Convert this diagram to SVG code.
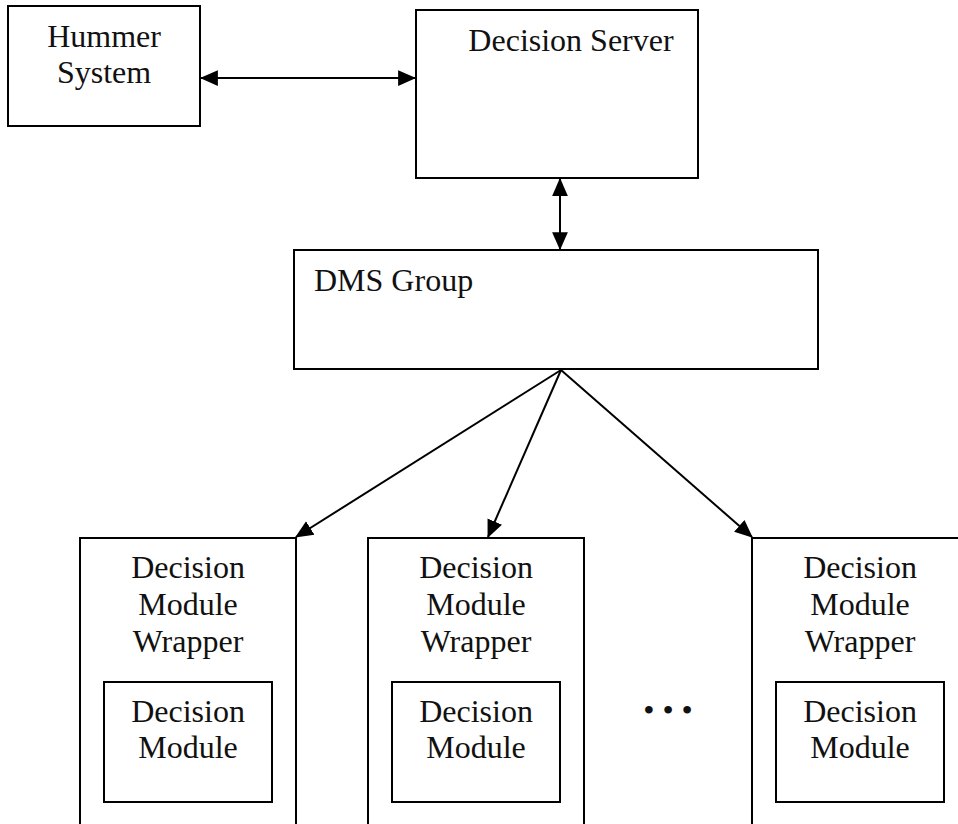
<svg xmlns="http://www.w3.org/2000/svg" width="958" height="824" viewBox="0 0 958 824">
  <style>
    .box { fill: #ffffff; stroke: #000000; stroke-width: 2; }
    .lbl { font-size: 32px; fill: #111111; }
    .mid { text-anchor: middle; }
    .conn { stroke: #000000; stroke-width: 2; fill: none; }
  </style>
  <defs>
    <marker id="arrow" markerUnits="userSpaceOnUse" markerWidth="18" markerHeight="18" viewBox="0 0 16 14" refX="15" refY="7" orient="auto-start-reverse">
      <path d="M0,0 L16,7 L0,14 z" fill="#000000"/>
    </marker>
  </defs>

  <rect width="958" height="824" fill="#ffffff"/>

  <g font-family="'Liberation Serif', 'DejaVu Serif', 'Times New Roman', serif">
  <g id="hummer-system">
    <rect class="box" x="8" y="6" width="192" height="120"/>
    <text class="lbl mid" x="104" y="47">Hummer</text>
    <text class="lbl mid" x="104" y="83">System</text>
  </g>

  <g id="decision-server">
    <rect class="box" x="416" y="10" width="282" height="168"/>
    <text class="lbl mid" x="571" y="51">Decision Server</text>
  </g>

  <g id="dms-group">
    <rect class="box" x="294" y="250" width="524" height="119"/>
    <text class="lbl" x="314" y="291">DMS Group</text>
  </g>

  <g id="wrapper-1">
    <rect class="box" x="80" y="538" width="216" height="300"/>
    <text class="lbl mid" x="188" y="578">Decision</text>
    <text class="lbl mid" x="188" y="615">Module</text>
    <text class="lbl mid" x="188" y="652">Wrapper</text>
    <g id="module-1">
      <rect class="box" x="104" y="682" width="168" height="120"/>
      <text class="lbl mid" x="188" y="722">Decision</text>
      <text class="lbl mid" x="188" y="758">Module</text>
    </g>
  </g>

  <g id="wrapper-2">
    <rect class="box" x="368" y="538" width="216" height="300"/>
    <text class="lbl mid" x="476" y="578">Decision</text>
    <text class="lbl mid" x="476" y="615">Module</text>
    <text class="lbl mid" x="476" y="652">Wrapper</text>
    <g id="module-2">
      <rect class="box" x="392" y="682" width="168" height="120"/>
      <text class="lbl mid" x="476" y="722">Decision</text>
      <text class="lbl mid" x="476" y="758">Module</text>
    </g>
  </g>

  <g id="ellipsis">
    <text class="lbl mid" x="668" y="721">• • •</text>
  </g>

  <g id="wrapper-n">
    <rect class="box" x="752" y="538" width="216" height="300"/>
    <text class="lbl mid" x="860" y="578">Decision</text>
    <text class="lbl mid" x="860" y="615">Module</text>
    <text class="lbl mid" x="860" y="652">Wrapper</text>
    <g id="module-n">
      <rect class="box" x="776" y="682" width="168" height="120"/>
      <text class="lbl mid" x="860" y="722">Decision</text>
      <text class="lbl mid" x="860" y="758">Module</text>
    </g>
  </g>
  </g>

  <g id="connectors">
    <line class="conn" x1="201" y1="78" x2="415" y2="78" marker-start="url(#arrow)" marker-end="url(#arrow)"/>
    <line class="conn" x1="560" y1="179" x2="560" y2="249" marker-start="url(#arrow)" marker-end="url(#arrow)"/>
    <line class="conn" x1="561" y1="370" x2="296" y2="537" marker-end="url(#arrow)"/>
    <line class="conn" x1="561" y1="370" x2="488" y2="537" marker-end="url(#arrow)"/>
    <line class="conn" x1="561" y1="370" x2="752" y2="537" marker-end="url(#arrow)"/>
  </g>
</svg>
